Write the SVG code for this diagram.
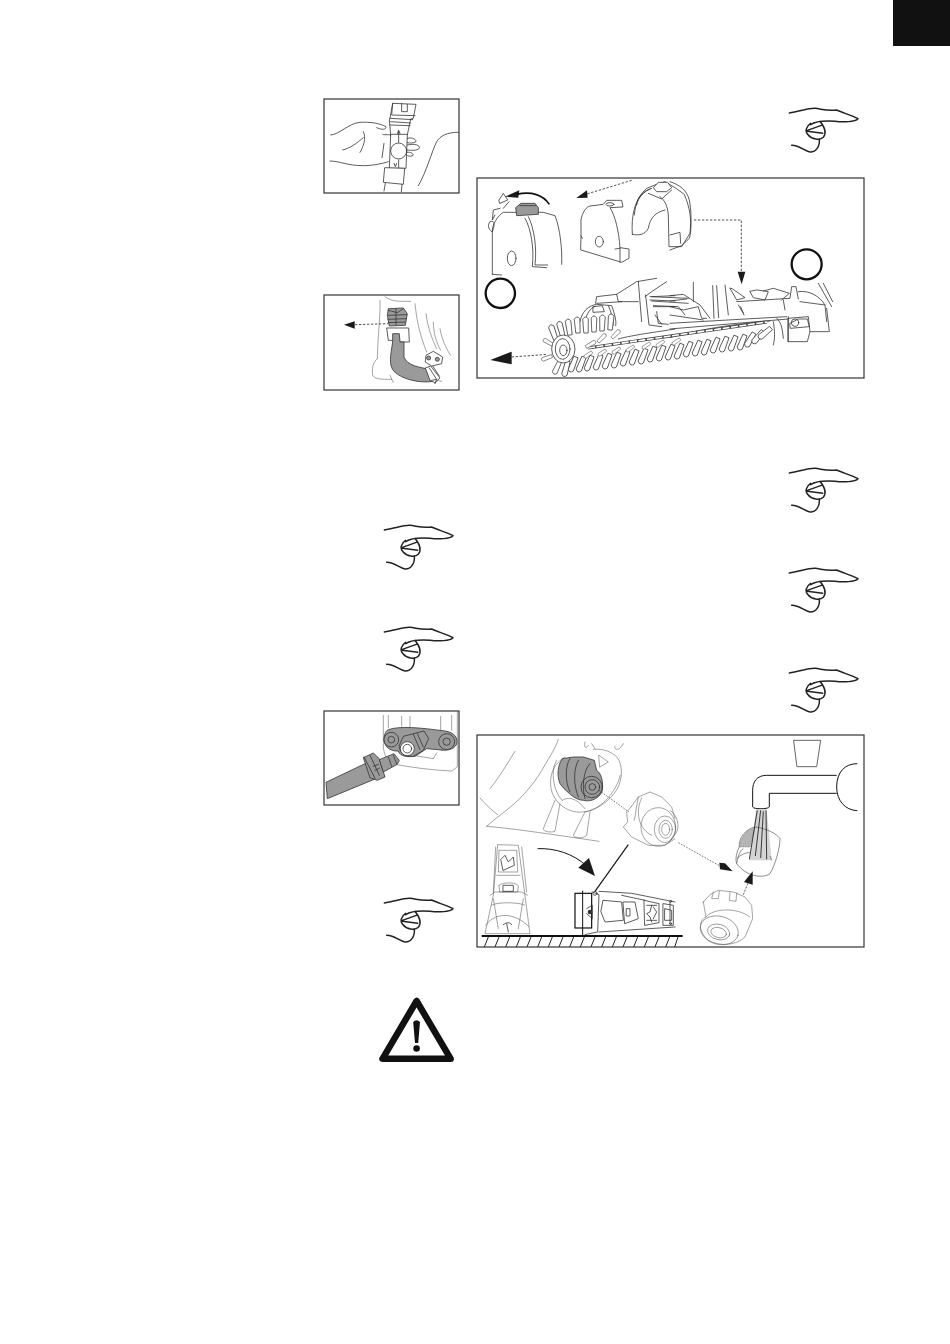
<svg xmlns="http://www.w3.org/2000/svg" xmlns:xlink="http://www.w3.org/1999/xlink" width="950" height="1344" viewBox="0 0 950 1344">
<style>
.f{fill:#fff;stroke:#333;stroke-width:1.2}
.l{fill:none;stroke:#333;stroke-width:2.4;stroke-linecap:round;stroke-linejoin:round}
.w{fill:#fff;stroke:#333;stroke-width:2.4;stroke-linejoin:round}
.g{fill:#9a9a9a;stroke:#333;stroke-width:2.4;stroke-linejoin:round}
.t{fill:none;stroke:#555;stroke-width:1.6;stroke-linecap:round;stroke-linejoin:round}
.d{fill:none;stroke:#333;stroke-width:2.6;stroke-dasharray:7 5}
.k{fill:#1a1a1a}
.h{fill:none;stroke:#222;stroke-width:4.5;stroke-linecap:round;stroke-linejoin:round}
.c{fill:#fff;stroke:#111;stroke-width:7}
.b{fill:#fff;stroke:#444;stroke-width:.8}
</style>
<defs>
<g id="hand">
<path class="h" d="M28 45C60 40 85 30 105 31C125 33 140 40 170 36C190 45 215 52 234 62C225 72 190 73 165 70C135 68 110 68 92 80"/>
<path class="h" d="M92 76C78 85 74 100 84 110C95 124 120 128 130 118C140 106 136 90 120 70M80 98L124 82M82 100L128 106"/>
<path class="h" d="M35 142C60 143 72 158 90 162C108 163 120 145 118 124"/>
</g>
<path id="br" class="b" d="M-2.200 0L-2.800 14Q0 18 2.800 14L2.200 0Z"/>
</defs>

<rect id="tab" x="893" y="0" width="57" height="46" fill="#111"/>

<g id="frame-1">
<rect class="f" x="324" y="99" width="135" height="94"/>
<g transform="translate(320 95) scale(.3333)">
<path class="w" d="M218 25L288 28L280 70L272 72L262 120L258 220L208 220L212 120L208 75L210 70Z"/>
<path class="l" d="M218 25L215 60L285 62M245 25V50H262V28M210 70L278 74M212 80L272 84M210 90L270 92M212 118H262"/>
<circle class="l" cx="236" cy="168" r="24"/>
<path class="l" d="M236 142V108M236 195V220M232 116L236 106L240 116M222 205L226 215L230 205"/>
<path class="w" d="M194 218L254 220L250 268L190 262Z"/>
<path class="l" d="M196 265L192 288M246 268L244 290"/>
<path class="l" d="M32 120C60 118 85 85 120 82C150 80 180 85 198 95C200 105 185 105 170 98M130 110C140 130 130 155 120 172M68 165C90 160 110 145 130 128M188 118C195 122 210 115 212 122M192 145L186 188M30 198C60 198 80 212 130 212C160 212 190 205 205 200M262 130C278 125 290 135 288 140C280 145 270 145 262 143M262 150C285 145 300 150 298 160C290 168 275 166 262 165M262 172C275 170 282 178 278 182C270 186 262 182 262 182"/>
<path class="l" d="M415 112C380 112 362 122 350 140C335 170 320 230 295 272"/>
</g>
</g>

<g id="frame-2">
<rect class="f" x="324" y="295" width="135" height="95"/>
<g transform="translate(320 292) scale(.3333)">
<path class="t" d="M195 14C215 30 240 28 272 28M180 25C182 70 172 150 172 200M285 35C290 80 296 120 320 180M318 65C322 100 335 140 350 170M340 90C340 120 348 150 362 175M360 110C365 140 378 170 392 190M172 200C160 210 155 225 158 250C165 262 185 262 215 262M210 250L220 272M320 260L365 268"/>
<path class="w" d="M200 108H266L268 150H240L238 145H205Z"/>
<path class="g" d="M218 125L238 125L240 150L252 150L252 195C262 222 300 226 330 232L340 268C300 275 245 262 222 238C205 218 212 190 218 150Z"/>
<path class="g" d="M205 50L250 48L262 65L256 100L208 102L202 70Z"/>
<path class="l" d="M205 70L260 68M204 82L258 80M205 92L256 90M228 50V100M205 55L232 62L250 50"/>
<path class="w" d="M316 228L332 222L360 258L345 272L330 265Z"/>
<path class="l" d="M328 228L350 262M338 222L358 252"/>
<path class="w" d="M318 190L340 178L368 195L365 215L335 222L316 210Z"/>
<circle class="g" cx="326" cy="198" r="6"/><circle class="g" cx="352" cy="202" r="6"/>
<path class="l" d="M335 265L350 262L345 275"/>
<path class="d" d="M105 98L205 95"/>
<path class="k" d="M72 98L104 88V110Z"/>
</g>
</g>

<g id="frame-3">
<rect class="f" x="324" y="711" width="135" height="94"/>
<g transform="translate(320 707) scale(.3333)">
<path class="t" d="M190 25V120C192 140 200 165 225 172C280 182 340 190 395 192L412 180L412 15M205 25V62M245 28V58M270 28V60M362 28V70M395 25V70M280 145L340 155M340 155L350 138"/>
<path class="g" d="M205 68C240 56 300 62 375 72C405 76 415 95 410 112C400 130 375 132 355 128L320 125L285 148C265 150 240 150 235 132C215 134 194 122 192 100C192 85 196 72 205 68Z"/>
<circle class="g" cx="214" cy="98" r="22"/><circle class="g" cx="214" cy="98" r="10"/>
<circle class="g" cx="380" cy="104" r="24"/><circle class="g" cx="380" cy="104" r="11"/>
<path class="g" d="M250 88L312 72L326 95L310 130L280 148C255 152 236 135 238 115Z"/>
<circle class="w" cx="262" cy="125" r="21"/><circle class="l" cx="262" cy="125" r="13"/>
<path class="l" d="M280 82L300 128M292 80L310 120"/>
<path class="g" d="M18 226L135 170L180 210L22 275Z"/>
<path class="g" d="M130 152L160 138L178 155L195 210L172 220L150 212Z"/>
<path class="l" d="M132 150L165 214M150 145L178 205M160 178L175 172M165 190L178 184"/>
<path class="g" d="M178 158L222 140L238 160L232 172L190 195Z"/>
<path class="l" d="M205 150L215 178M220 145L230 170"/>
</g>
</g>

<g id="frame-4">
<rect class="f" x="477" y="178" width="387" height="200"/>
<g transform="translate(475 175) scale(.3333)">
<path class="l" d="M52 298V170C50 150 70 120 85 112L205 112L240 122C255 160 262 220 260 268"/>
<path class="l" d="M150 130C168 160 178 220 172 275L215 278M160 125C178 160 186 220 180 270L218 270M50 170C38 160 38 150 45 140C60 135 60 150 52 170M60 120L52 135L55 105L75 100M52 298L80 300"/>
<ellipse class="l" cx="110" cy="250" rx="13" ry="22"/>
<path class="l" d="M72 75L85 55L98 75L75 85ZM85 100L102 80"/>
<path class="g" d="M122 98L138 85H180L190 98V118L125 122Z"/>
<path class="l" d="M135 92H182"/>
<path class="k" d="M90 65L133 46L130 68Z"/>
<path d="M125 58C170 48 205 60 223 88" fill="none" stroke="#111" stroke-width="5"/>
<circle class="c" cx="76" cy="355" r="44"/>

<path class="d" d="M470 16L335 57"/>
<path class="k" d="M304 69L336 46L338 68Z"/>
<path class="l" d="M318 183V135C322 110 335 95 345 93L385 88L395 76H440L444 96L405 98C420 120 432 170 435 218L462 222V250L440 262L318 225ZM318 183L322 190M420 222L434 220M435 218V262"/>
<ellipse class="l" cx="373" cy="200" rx="12" ry="16"/>
<ellipse class="l" cx="405" cy="88" rx="12" ry="5"/>

<path class="l" d="M472 178C468 120 480 70 515 40L545 28L570 20L600 38L628 58C645 100 650 130 645 175L620 215L582 215L580 120C578 95 570 75 555 65M472 178C490 182 510 180 520 160C525 130 540 112 570 105M485 90C488 65 505 48 530 40M478 120C480 85 495 55 525 42"/>
<path class="w" d="M535 38L550 22H578L590 38L575 50H545Z"/>
<path class="l" d="M520 55L560 72L590 45"/>

<path class="l" d="M362 385L365 365L425 358L485 320L545 310M425 358L430 380L490 380M490 320L500 440M510 365L530 350L575 320M512 360L522 450L560 455M365 385L440 380"/>
<path class="l" d="M315 440C320 410 340 392 365 388L410 392C420 420 425 440 422 452M328 445C335 415 345 400 360 394M400 392C410 415 415 435 415 450M355 395L382 392L388 410L355 412Z"/>
<path class="l" d="M525 365L640 370M530 378L640 385M535 392L610 395L630 420M545 410L550 445L580 448"/>
<path class="l" d="M530 365L600 362M525 375L600 378M535 395L600 395M540 420L560 448"/>
<path class="l" d="M600 462C580 466 470 480 430 492M610 478C560 486 490 498 450 505"/>
</g>
<g transform="translate(670 175) scale(.3333)">
<path class="l" d="M0 20C30 30 50 45 58 75C65 110 65 170 58 190L35 212L0 225M0 180L30 172L32 205"/>
<path class="d" d="M72 135H214V292"/>
<path class="k" d="M203 290H226L215 328Z"/>
<circle class="c" cx="410" cy="268" r="45"/>
<path class="l" d="M0 362L40 358L90 390L120 430M0 378L50 372M0 395L40 405L85 395L95 430L110 430M0 420L100 435M70 322V380M128 332L132 430M140 332L146 428"/>
<path class="l" d="M180 340L200 375L225 368L188 342ZM240 350L250 368L285 375L295 350L262 345ZM280 348L310 340L358 355L335 375M165 330L175 420M212 395L222 420M205 390L220 415M340 375L345 405M200 380L360 370L365 335L378 335L385 372"/>
<path class="l" d="M385 350C420 345 450 365 465 390L470 440M390 380L465 390M445 325L485 395M460 325L488 380M470 400L478 470M320 430C335 440 338 470 340 490M355 430L415 425L420 470L412 500H355ZM360 445L385 432L412 432L418 455L362 460ZM355 425L355 500M420 470L475 470"/>
<circle class="l" cx="375" cy="443" r="11"/>
<path class="l" d="M0 445L350 425M0 462L355 432"/>
<path class="l" d="M0 488C60 470 160 450 300 438M310 440C315 470 315 490 310 510"/>
</g>
<g id="chain">
<path d="M588 348L767 322" fill="none" stroke="#444" stroke-width="3.2"/>
<path d="M588 348L767 322" fill="none" stroke="#fff" stroke-width="1.6" stroke-dasharray="7 1.5"/>
</g>
<g id="bristles-lower">
<use xlink:href="#br" href="#br" transform="translate(576 357) rotate(22)"/>
<use xlink:href="#br" href="#br" transform="translate(584 357) rotate(22)"/>
<use xlink:href="#br" href="#br" transform="translate(592 356) rotate(22)"/>
<use xlink:href="#br" href="#br" transform="translate(601 355) rotate(22)"/>
<use xlink:href="#br" href="#br" transform="translate(610 354) rotate(22)"/>
<use xlink:href="#br" href="#br" transform="translate(619 353) rotate(22)"/>
<use xlink:href="#br" href="#br" transform="translate(628 351) rotate(22)"/>
<use xlink:href="#br" href="#br" transform="translate(637 350) rotate(22)"/>
<use xlink:href="#br" href="#br" transform="translate(646 349) rotate(22)"/>
<use xlink:href="#br" href="#br" transform="translate(655 347) rotate(22)"/>
<use xlink:href="#br" href="#br" transform="translate(664 346) rotate(22)"/>
<use xlink:href="#br" href="#br" transform="translate(673 345) rotate(22)"/>
<use xlink:href="#br" href="#br" transform="translate(682 344) rotate(22)"/>
<use xlink:href="#br" href="#br" transform="translate(691 342) rotate(22)"/>
<use xlink:href="#br" href="#br" transform="translate(700 341) rotate(22)"/>
<use xlink:href="#br" href="#br" transform="translate(709 340) rotate(22)"/>
<use xlink:href="#br" href="#br" transform="translate(718 338) rotate(22)"/>
<use xlink:href="#br" href="#br" transform="translate(727 337) rotate(22)"/>
<use xlink:href="#br" href="#br" transform="translate(736 336) rotate(22)"/>
<use xlink:href="#br" href="#br" transform="translate(745 335) rotate(22)"/>
<use xlink:href="#br" href="#br" transform="translate(754 333) rotate(30)"/>
<use xlink:href="#br" href="#br" transform="translate(763 331) rotate(40)"/>
<use xlink:href="#br" href="#br" transform="translate(771 328) rotate(50)"/>
</g>
<g id="bristles-row2">
<use xlink:href="#br" href="#br" transform="translate(592 352) rotate(55) scale(.6)"/>
<use xlink:href="#br" href="#br" transform="translate(606 350) rotate(55) scale(.6)"/>
<use xlink:href="#br" href="#br" transform="translate(620 348) rotate(55) scale(.6)"/>
<use xlink:href="#br" href="#br" transform="translate(634 346) rotate(55) scale(.6)"/>
<use xlink:href="#br" href="#br" transform="translate(650 343) rotate(55) scale(.6)"/>
<use xlink:href="#br" href="#br" transform="translate(664 341) rotate(55) scale(.6)"/>
<use xlink:href="#br" href="#br" transform="translate(680 339) rotate(55) scale(.6)"/>
</g>
<g id="bristles-upper">
<use xlink:href="#br" href="#br" transform="translate(556 340) rotate(160)"/>
<use xlink:href="#br" href="#br" transform="translate(563 337) rotate(165)"/>
<use xlink:href="#br" href="#br" transform="translate(570 335) rotate(172)"/>
<use xlink:href="#br" href="#br" transform="translate(578 333) rotate(176)"/>
<use xlink:href="#br" href="#br" transform="translate(586 333) rotate(178)"/>
<use xlink:href="#br" href="#br" transform="translate(594 332) rotate(180)"/>
<use xlink:href="#br" href="#br" transform="translate(602 331) rotate(182)"/>
<use xlink:href="#br" href="#br" transform="translate(610 330) rotate(185)"/>
<use xlink:href="#br" href="#br" transform="translate(553 345) rotate(120) scale(.7)"/>
<use xlink:href="#br" href="#br" transform="translate(552 356) rotate(70) scale(.7)"/>
<use xlink:href="#br" href="#br" transform="translate(560 361) rotate(25) scale(.9)"/>
<use xlink:href="#br" href="#br" transform="translate(568 361) rotate(15)"/>
<use xlink:href="#br" href="#br" transform="translate(612 338) rotate(225) scale(.7)"/>
<use xlink:href="#br" href="#br" transform="translate(598 342) rotate(225) scale(.7)"/>
<use xlink:href="#br" href="#br" transform="translate(586 347) rotate(240) scale(.7)"/>
</g>
<g id="wheel" transform="translate(475 175) scale(.3333)">
<ellipse class="w" cx="265" cy="522" rx="35" ry="42"/>
<ellipse class="l" cx="263" cy="522" rx="22" ry="31"/>
<ellipse class="l" cx="265" cy="526" rx="11" ry="16"/>
<path class="d" d="M110 546L218 538"/>
<path class="k" d="M46 555L110 530V568Z"/>
</g>
</g>

<g id="frame-5">
<rect class="f" x="477" y="735" width="387" height="212"/>
<g transform="translate(475 732) scale(.3333)">
<path class="t" d="M120 58C100 90 70 140 45 170M15 198C30 215 50 235 68 248M35 283C80 240 150 210 215 90C230 65 245 40 250 22M35 283C120 290 250 310 372 328"/>
<path class="t" d="M270 75C235 95 222 130 228 170C235 205 265 235 305 240C350 245 410 210 432 160C445 125 440 85 420 70C400 55 380 50 355 52M245 85C225 115 235 180 262 205M330 240C370 235 420 190 436 130M340 40C335 50 325 50 330 30M350 35L360 50M420 42C415 52 430 62 445 35"/>
<path class="t" d="M240 205L205 290C205 300 230 302 240 298L255 215M330 240L295 310C300 320 325 320 335 310L345 240M262 205C285 190 310 205 330 230M372 70L400 90L375 105Z"/>
<path class="g" d="M262 80L295 75L325 75L358 85L365 115C380 125 385 150 382 175C378 195 350 212 325 205C300 205 270 175 255 155C245 130 248 100 262 80Z"/>
<path class="l" d="M285 80C270 100 270 150 285 180M310 85C295 110 295 160 310 195M345 95C325 115 320 165 330 200"/>
<circle class="l" cx="350" cy="165" r="32"/><circle class="l" cx="352" cy="165" r="22"/><circle class="l" cx="352" cy="165" r="10"/>
<path class="t" d="M468 225L490 195L525 180L560 195L590 225L600 260M468 225L455 240L458 270L445 285L470 315L520 340L570 340L600 320M490 195L478 265M500 198C480 240 490 290 530 310"/>
<ellipse class="t" cx="550" cy="285" rx="52" ry="58"/><ellipse class="t" cx="570" cy="292" rx="32" ry="40"/><ellipse class="t" cx="572" cy="292" rx="20" ry="27"/><ellipse class="t" cx="572" cy="292" rx="12" ry="18"/>
<path class="d" d="M372 175L462 240" style="stroke-width:2;stroke-dasharray:5 4"/>
<path d="M188 350C240 348 295 365 335 402" fill="none" stroke="#111" stroke-width="3"/>
<path class="k" d="M310 407L342 378L360 432Z"/>
<path d="M460 338L360 478" fill="none" stroke="#111" stroke-width="3.4"/>
<path d="M20 612H600" stroke="#111" stroke-width="6" fill="none"/>
<path d="M40 615L28 645M72 615L60 645M104 615L92 645M136 615L124 645M168 615L156 645M200 615L188 645M232 615L220 645M264 615L252 645M296 615L284 645M328 615L316 645M360 615L348 645M392 615L380 645M424 615L412 645M456 615L444 645M488 615L476 645M520 615L508 645M552 615L540 645M584 615L572 645" fill="none" stroke="#222" stroke-width="3"/>
<path class="t" d="M30 605L55 490L68 338L130 340L165 605ZM62 345L55 480M140 345L155 480M32 580C60 540 120 540 162 585M45 490L60 480H140L158 490M72 355H125L128 420H70ZM72 460C85 450 125 450 130 462L128 480H74ZM65 430H135M50 520C65 510 130 510 150 520M55 500L70 590M145 500L130 590" stroke-dasharray="4 2"/>
<path class="l" d="M78 382L90 370L100 390L115 375L118 400L85 415ZM85 460H115V478H85ZM95 575L100 600M85 578C95 570 105 570 110 578"/>
<rect x="300" y="484" width="50" height="104" fill="none" stroke="#111" stroke-width="3.6"/>
<path d="M323 476V612" stroke="#111" stroke-width="3" fill="none"/>
<circle cx="345" cy="540" r="7" fill="#333"/>
<path class="l" d="M335 530L352 520V560L335 545M352 480L372 488L368 600L330 608"/>
<circle class="l" cx="360" cy="484" r="6"/>
<path class="l" d="M372 478L470 484L600 510M372 600L600 585M385 505L440 510L445 565L390 570L378 540ZM440 490L510 505M445 510H480L490 560L450 575ZM455 530H465V552H455ZM508 505L552 515L552 572L510 580ZM565 515L595 520V580L565 580ZM570 530L590 535V565L570 565Z"/>
<path class="l" d="M515 520H545M515 565H545M530 520L525 540L515 545L525 555L530 570M535 525L545 540L535 560"/>
</g>
<g transform="translate(670 732) scale(.3333)">
<path class="l" d="M372 25H452L440 104H382Z" style="stroke:#666;stroke-width:3"/>
<path d="M562 95C525 95 500 120 500 165C500 205 525 235 562 236M500 130H290C260 130 248 150 248 175V225C250 232 295 232 298 225V184H500" fill="none" stroke="#111" stroke-width="3"/>
<path d="M258 232H290L305 385L238 385Z" fill="#d4d4d4"/>
<path d="M208 345C205 320 225 290 258 285C290 290 320 305 330 320C330 350 315 400 300 425C280 440 230 435 200 395C195 380 200 360 208 345Z" fill="none" stroke="#555" stroke-width="2"/>
<path d="M208 345C210 320 230 290 255 285L240 345Z" fill="#b5b5b5" stroke="#666" stroke-width="1.6" stroke-dasharray="3 2"/>
<path d="M200 380C220 360 240 362 240 362M300 372L305 385M200 395C205 370 210 355 220 350" fill="none" stroke="#555" stroke-width="2"/>
<path d="M262 235L238 382M272 235L256 372M280 238L272 378M288 235L290 382" fill="none" stroke="#111" stroke-width="2.4"/>
<path class="d" d="M25 332L150 402" style="stroke-width:2;stroke-dasharray:5 4"/>
<path class="k" d="M148 392L165 394L188 418L150 412Z"/>
<path class="d" d="M220 488L236 448" style="stroke-width:2.4;stroke-dasharray:6 4"/>
<path class="k" d="M222 450L248 418L248 458Z"/>
<path class="t" d="M100 510L120 488L145 475L190 480L225 495L245 520L248 560L225 615C200 640 150 645 115 625C85 600 85 565 108 555L100 510ZM108 555C130 528 200 525 240 555M130 480L125 500L145 500L148 478M180 480L178 505L198 508L200 483"/>
<ellipse class="t" cx="148" cy="595" rx="58" ry="42" transform="rotate(15 148 595)"/>
<ellipse class="t" cx="146" cy="600" rx="34" ry="23" transform="rotate(15 146 600)"/>
<ellipse class="t" cx="146" cy="602" rx="24" ry="15" transform="rotate(15 146 602)"/>
<path class="l" d="M0 510V575"/>
<circle class="l" cx="2" cy="508" r="3"/><circle class="l" cx="2" cy="575" r="3"/>
<path d="M0 612H38" stroke="#111" stroke-width="6"/>
<path d="M24 615L14 645" stroke="#222" stroke-width="3"/>
<path class="t" d="M0 235C25 250 28 285 20 300L0 325"/>
</g>
</g>

<g id="pointer-r1"><use xlink:href="#hand" href="#hand" transform="translate(780 98) scale(.3333)"/></g>
<g id="pointer-r2"><use xlink:href="#hand" href="#hand" transform="translate(780 458) scale(.3333)"/></g>
<g id="pointer-r3"><use xlink:href="#hand" href="#hand" transform="translate(780 558) scale(.3333)"/></g>
<g id="pointer-r4"><use xlink:href="#hand" href="#hand" transform="translate(780 658) scale(.3333)"/></g>
<g id="pointer-l1"><use xlink:href="#hand" href="#hand" transform="translate(375 515) scale(.3333)"/></g>
<g id="pointer-l2"><use xlink:href="#hand" href="#hand" transform="translate(375 617) scale(.3333)"/></g>
<g id="pointer-l3"><use xlink:href="#hand" href="#hand" transform="translate(375 888) scale(.3333)"/></g>

<g id="warning">
<path d="M416.600 1001L382.500 1058.800H450.700Z" fill="#fff" stroke="#111" stroke-width="6.500" stroke-linejoin="round"/>
<path d="M413.200 1022Q416.600 1018.500 420 1022L418.200 1043H415Z" fill="#111"/>
<circle cx="416.600" cy="1048.500" r="3.300" fill="#111"/>
</g>
</svg>
